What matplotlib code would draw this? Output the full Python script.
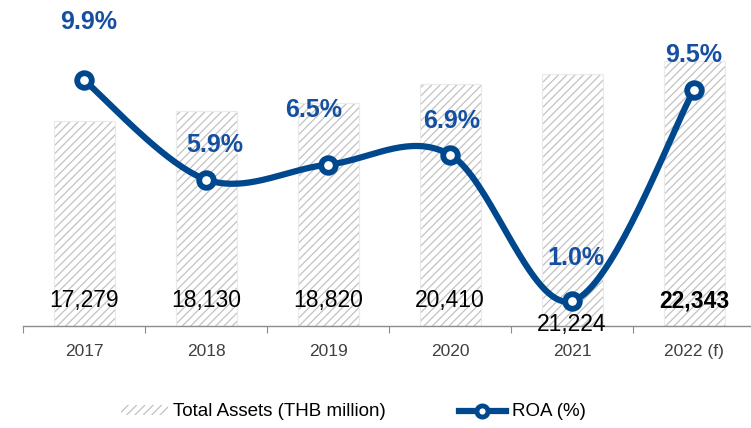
import numpy as np
import matplotlib
matplotlib.use("Agg")
import matplotlib.pyplot as plt
from matplotlib.patches import Patch
from matplotlib.lines import Line2D

plt.rcParams['font.family'] = ['Liberation Sans', 'DejaVu Sans']
plt.rcParams['hatch.linewidth'] = 0.9

years = ["2017", "2018", "2019", "2020", "2021", "2022 (f)"]
total_assets = [17279, 18130, 18820, 20410, 21224, 22343]
asset_labels = ["17,279", "18,130", "18,820", "20,410", "21,224", "22,343"]
roa = [9.9, 5.9, 6.5, 6.9, 1.0, 9.5]
roa_labels = ["9.9%", "5.9%", "6.5%", "6.9%", "1.0%", "9.5%"]

# styling (label offsets in points)
roa_label_dx = [3, 6, -10, 1, 3, 0]
roa_label_dy = [42, 24.5, 39.5, 24.5, 31, 25]
LINE = '#00488D'
LBL = '#1550A0'
HATCH = '#C2C2C2'

W, H = 751, 428
fig = plt.figure(figsize=(W / 100, H / 100), dpi=100)
ax = fig.add_axes([23 / W, (H - 326) / H, 732 / W, 326 / H])

x = np.arange(len(years))
ax.bar(x, total_assets, width=0.5, color='white', edgecolor=HATCH,
       hatch='////', linewidth=0, zorder=1)
ax.bar(x, total_assets, width=0.5, color='none', edgecolor='#EAEAEA',
       linewidth=0.8, zorder=1.5)
ax.set_xlim(-0.5, len(years) - 0.5)
ax.set_ylim(0, 27490)

for i, lab in enumerate(asset_labels):
    yy = 0.005 if i == 4 else 0.077
    ax.text(x[i], yy, lab, transform=ax.get_xaxis_transform(), ha='center',
            va='center', fontsize=16.5, color='black',
            fontweight='bold' if i == 5 else 'normal', zorder=5)

for s in ['top', 'right', 'left']:
    ax.spines[s].set_visible(False)
ax.spines['bottom'].set_color('#8C8C8C')
ax.spines['bottom'].set_linewidth(1.0)
ax.set_yticks([])
ax.set_xticks(np.arange(-0.5, len(years), 1.0), minor=False)
ax.set_xticklabels([])
ax.tick_params(axis='x', which='major', length=5, color='#8C8C8C', direction='out')
ax.set_xticks(x, minor=True)
ax.set_xticklabels(years, minor=True)
ax.tick_params(axis='x', which='minor', length=0, labelsize=12.5,
               labelcolor='#404040', pad=13)

ax2 = ax.twinx()
ax2.set_ylim(0, 13.13)
ax2.set_axis_off()

# Excel-style smoothed line (Catmull-Rom through the data points)
pts = np.column_stack([x, roa]).astype(float)
ext = np.vstack([pts[0], pts, pts[-1]])
curve = []
t = np.linspace(0, 1, 40)
for i in range(1, len(ext) - 2):
    p0, p1, p2, p3 = ext[i - 1], ext[i], ext[i + 1], ext[i + 2]
    c1 = p1 + (p2 - p0) / 6
    c2 = p2 - (p3 - p1) / 6
    seg = ((1 - t) ** 3)[:, None] * p1 + (3 * (1 - t) ** 2 * t)[:, None] * c1 \
        + (3 * (1 - t) * t ** 2)[:, None] * c2 + (t ** 3)[:, None] * p2
    curve.append(seg)
curve = np.vstack(curve)
ax2.plot(curve[:, 0], curve[:, 1], color=LINE, lw=4.5, solid_capstyle='round', zorder=3)
ax2.plot(x, roa, ls='none', marker='o', ms=10.5, mfc='white', mec=LINE, mew=4.2, zorder=4)

for i, lab in enumerate(roa_labels):
    ax2.annotate(lab, (x[i], roa[i]), xytext=(roa_label_dx[i], roa_label_dy[i]),
                 textcoords='offset points', ha='center', va='center',
                 fontsize=18, fontweight='bold', color=LBL, zorder=5)

handles = [Patch(facecolor='white', edgecolor=HATCH, hatch='////', linewidth=0),
           Line2D([0], [0], color=LINE, lw=4.5, marker='o', ms=8, mfc='white',
                  mec=LINE, mew=3.5)]
fig.legend(handles, ["Total Assets (THB million)", "ROA (%)"], loc='center',
           bbox_to_anchor=(353 / W, 1 - 412 / H), ncol=2, frameon=False,
           fontsize=13.5, handlelength=2.5, handleheight=0.5, handletextpad=0.3,
           columnspacing=3.9)

fig.savefig('out.png', dpi=100)
